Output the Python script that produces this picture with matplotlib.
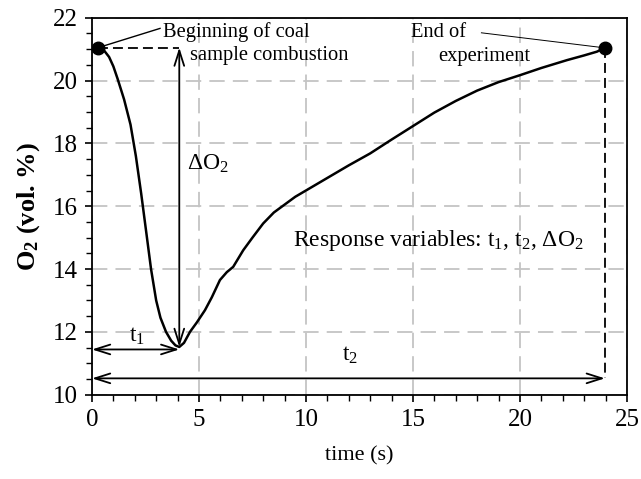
import matplotlib
matplotlib.use("Agg")
import matplotlib.pyplot as plt
import numpy as np

plt.rcParams['font.family'] = ['Liberation Serif', 'DejaVu Serif']
plt.rcParams['mathtext.fontset'] = 'custom'
plt.rcParams['mathtext.rm'] = 'Liberation Serif'
plt.rcParams['mathtext.it'] = 'Liberation Serif:italic'
plt.rcParams['mathtext.bf'] = 'Liberation Serif:bold'
plt.rcParams['mathtext.default'] = 'regular'

# Data
time = [0.3, 0.55, 0.8, 1.0, 1.2, 1.5, 1.8, 2.05, 2.3, 2.55, 2.76, 3.0, 3.2,
        3.46, 3.7, 3.9, 4.08, 4.3, 4.58, 4.9, 5.28, 5.6, 5.98, 6.3, 6.6, 7.07,
        7.5, 8.0, 8.5, 9.0, 9.5, 10.0, 11.0, 12.0, 13.0, 14.0, 15.0, 16.0,
        17.0, 18.0, 19.0, 20.0, 21.0, 22.2, 23.0, 23.6, 23.97]
o2 = [21.05, 20.97, 20.75, 20.45, 20.05, 19.4, 18.6, 17.6, 16.4, 15.1, 14.0,
      13.0, 12.45, 12.0, 11.72, 11.57, 11.52, 11.65, 12.0, 12.3, 12.69, 13.1,
      13.65, 13.9, 14.07, 14.6, 15.0, 15.45, 15.8, 16.05, 16.3, 16.5, 16.9,
      17.3, 17.68, 18.12, 18.55, 18.98, 19.35, 19.68, 19.95, 20.17, 20.4,
      20.65, 20.8, 20.92, 21.04]

t_start = 0.3
t1 = 4.08
t2 = 23.97
o2_start = 21.05
o2_min = 11.52
o2_end = 21.04
t1_arrow_y = 11.44
t2_arrow_y = 10.52

fig = plt.figure(figsize=(6.41, 4.79), dpi=100)
ax = fig.add_axes([0.1435, 0.176, 0.978 - 0.1435, 0.963 - 0.176])

ax.set_xlim(0, 25)
ax.set_ylim(10, 22)
ax.set_xticks(np.arange(0, 26, 5))
ax.set_yticks(np.arange(10, 23, 2))
ax.set_xticks(np.arange(0, 26, 1), minor=True)
ax.set_yticks(np.arange(10, 22.01, 0.5), minor=True)
ax.tick_params(which='major', direction='out', length=5, width=1.2, labelsize=18, pad=5)
ax.tick_params(which='minor', direction='out', length=4, width=1.0)
for s in ax.spines.values():
    s.set_linewidth(1.3)

ax.grid(True, which='major', color='#c4c4c4', linestyle=(0, (8.5, 4.5)), linewidth=1.3)
ax.set_axisbelow(True)

ax.plot(time, o2, color='black', linewidth=1.8, zorder=3)
ax.plot([time[0], time[-1]], [o2[0], o2[-1]], 'o', color='black', markersize=9, zorder=4)

# dashed guides
ax.plot([t_start, t1], [o2_start, o2_start], color='black', linestyle=(0, (5.5, 2.8)), linewidth=1.3)
ax.plot([t2, t2], [o2_end, t2_arrow_y], color='black', linestyle=(0, (5.5, 2.8)), linewidth=1.3)

arrow_kw = dict(arrowstyle='<->,head_length=1.1,head_width=0.35', color='black',
                lw=1.3, shrinkA=0, shrinkB=0, mutation_scale=10)
ax.annotate('', xy=(t1, o2_min), xytext=(t1, o2_start), arrowprops=arrow_kw)
ax.annotate('', xy=(0, t1_arrow_y), xytext=(t1, t1_arrow_y), arrowprops=arrow_kw)
ax.annotate('', xy=(0, t2_arrow_y), xytext=(t2, t2_arrow_y), arrowprops=arrow_kw)

# leader lines
ax.plot([t_start, 3.18], [o2_start, 21.66], color='black', linewidth=1.0)
ax.plot([18.2, t2], [21.52, o2_end], color='black', linewidth=0.7)

fs = 14.8
ax.text(3.32, 21.55, 'Beginning of coal', fontsize=fs, va='center', ha='left')
ax.text(4.58, 20.81, 'sample combustion', fontsize=fs, va='center', ha='left')
ax.text(14.93, 21.53, 'End of', fontsize=fs, va='center', ha='left')
ax.text(16.18, 20.76, 'experiment', fontsize=fs, va='center', ha='left')
ax.text(4.45, 17.35, r'$\Delta$O$_2$', fontsize=17, va='center', ha='left')
ax.text(2.1, 11.85, 't$_1$', fontsize=17, va='center', ha='center')
ax.text(12.05, 11.25, 't$_2$', fontsize=17, va='center', ha='center')
ax.text(9.39, 14.92, r'Response variables: t$_1$, t$_2$, $\Delta$O$_2$', fontsize=17,
        va='center', ha='left')

ax.set_xlabel('time (s)', fontsize=16, labelpad=11)
ax.set_ylabel('O$_2$ (vol. %)', fontsize=19, fontweight='bold', labelpad=8)

fig.savefig('out.png', dpi=100)
